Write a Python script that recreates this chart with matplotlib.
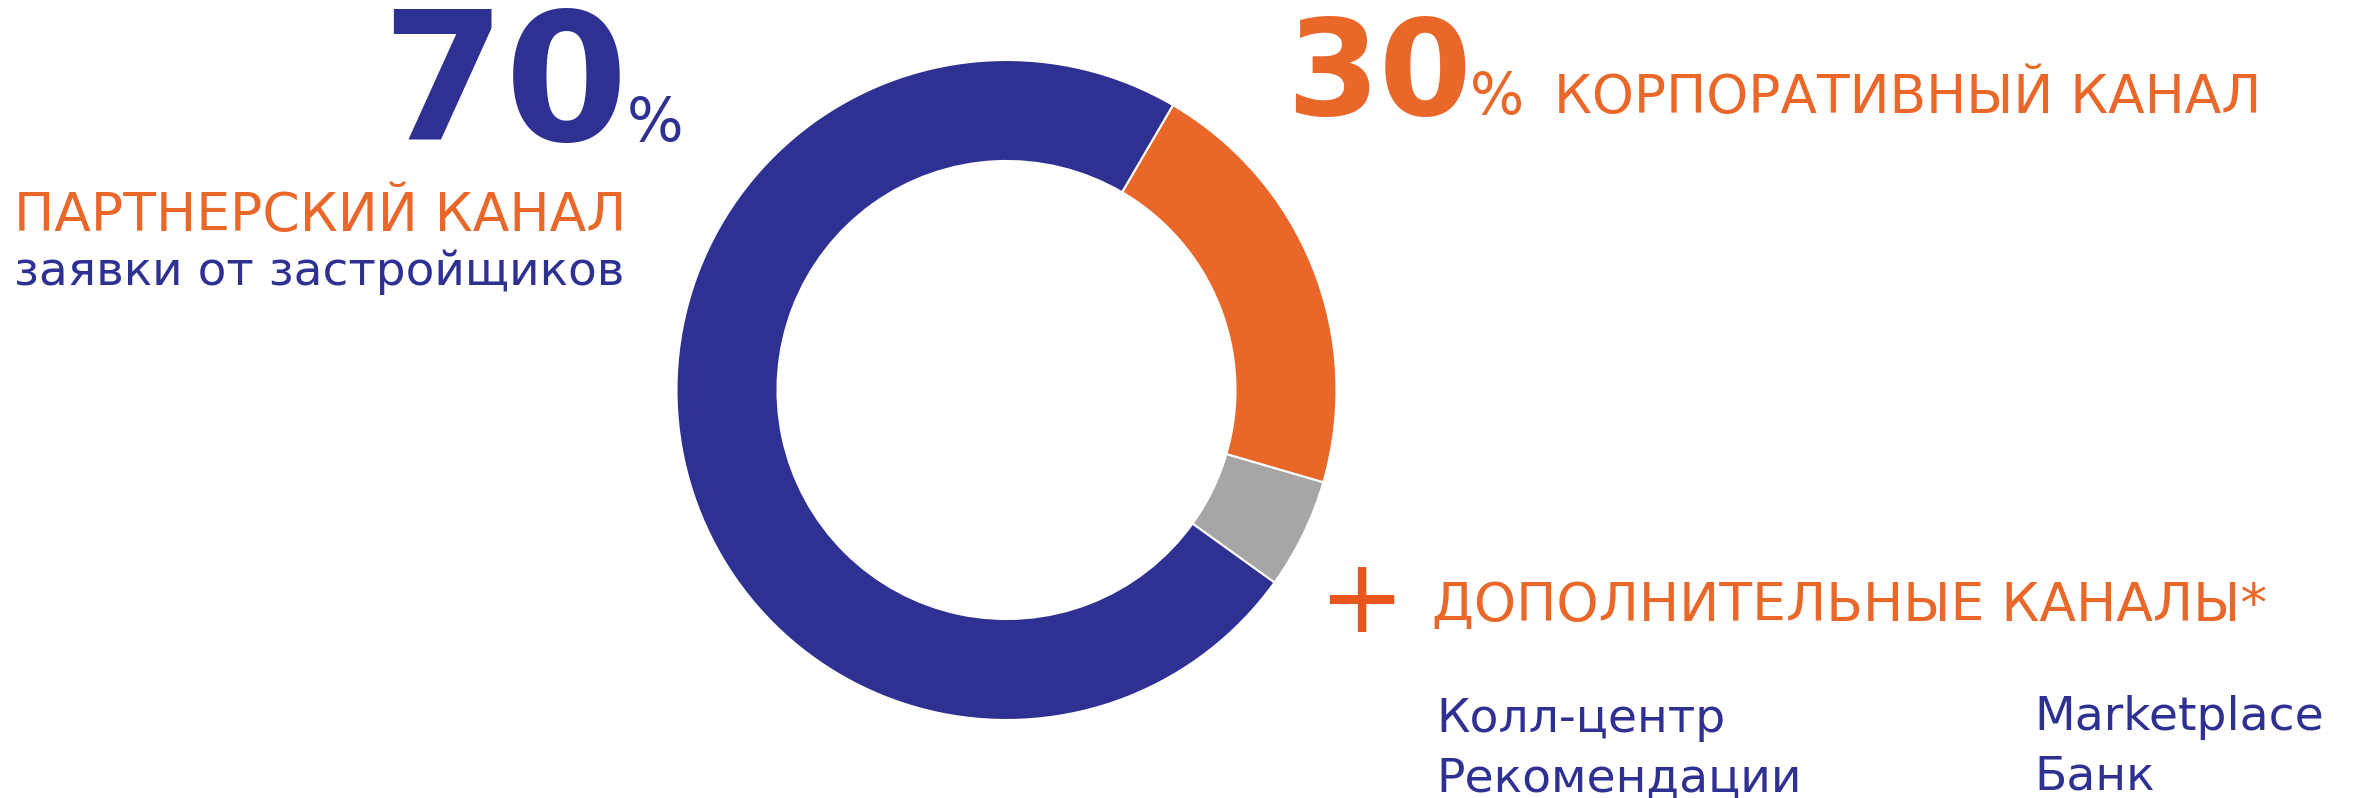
import matplotlib.pyplot as plt

W, H = 2353, 798

# data (share of the circle)
channels = ["Корпоративный", "Дополнительные", "Партнерский"]
shares = [21.1, 5.4, 73.5]
colors = ["#EA672A", "#A6A6A6", "#2E3192"]

NAVY = "#2E3192"
ORANGE = "#EA672A"

partner_pct = "70"
corp_pct = "30"
extra_left = ["Колл-центр", "Рекомендации"]
extra_right = ["Marketplace", "Банк"]


def fx(x):
    return x / W


def fy(y):
    return 1 - y / H


fig = plt.figure(figsize=(W / 100, H / 100), dpi=100)

# donut
cx, cy, r = 1006.5, 390, 330
ax = fig.add_axes([fx(cx - r), fy(cy + r), 2 * r / W, 2 * r / H])
ax.pie(shares, colors=colors, startangle=59.7, counterclock=False,
       radius=1, wedgeprops=dict(width=0.306, edgecolor="white", linewidth=1.5))
ax.set_xlim(-1, 1)
ax.set_ylim(-1, 1)
ax.set_aspect("equal")
ax.axis("off")

# left block
fig.text(fx(381), fy(140), partner_pct, color=NAVY, fontsize=128,
         fontweight="bold", va="baseline", ha="left")
fig.text(fx(627), fy(141), "%", color=NAVY, fontsize=43, va="baseline")
fig.text(fx(14), fy(231), "ПАРТНЕРСКИЙ КАНАЛ", color=ORANGE, fontsize=38.5,
         va="baseline")
fig.text(fx(14), fy(285), "заявки от застройщиков", color=NAVY, fontsize=33.8,
         va="baseline")

# top right block
fig.text(fx(1286), fy(115), corp_pct, color=ORANGE, fontsize=96,
         fontweight="bold", va="baseline")
fig.text(fx(1470), fy(114), "%", color=ORANGE, fontsize=41, va="baseline")
fig.text(fx(1554), fy(113), "КОРПОРАТИВНЫЙ КАНАЛ", color=ORANGE, fontsize=38.4,
         va="baseline")

# bottom right block
fig.text(fx(1318), fy(632), "+", color="#E8561B", fontsize=74, va="baseline")
fig.text(fx(1432), fy(621), "ДОПОЛНИТЕЛЬНЫЕ КАНАЛЫ*", color=ORANGE,
         fontsize=38.6, va="baseline")
for i, s in enumerate(extra_left):
    fig.text(fx(1436), fy(732 + 60 * i), s, color=NAVY, fontsize=34, va="baseline")
for i, s in enumerate(extra_right):
    fig.text(fx(2034), fy(730 + 60 * i), s, color=NAVY, fontsize=34, va="baseline")

fig.savefig("out.png", dpi=100, facecolor="white")
